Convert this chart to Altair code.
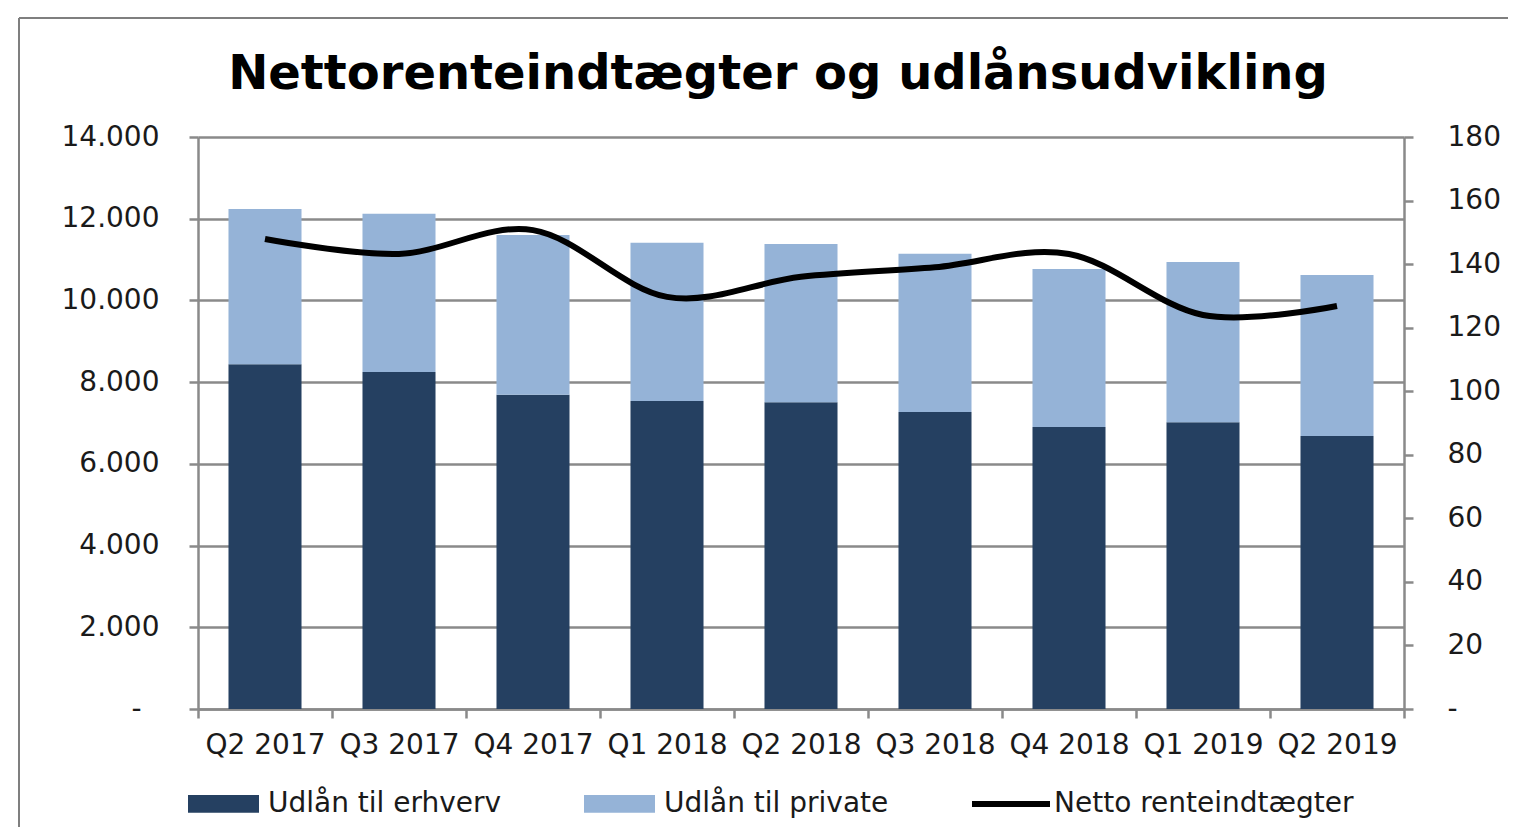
import altair as alt
import pandas as pd

# ---------------- data ----------------
quarters = ["Q2 2017", "Q3 2017", "Q4 2017", "Q1 2018", "Q2 2018",
            "Q3 2018", "Q4 2018", "Q1 2019", "Q2 2019"]
erhverv = [8440, 8250, 7690, 7540, 7510, 7270, 6900, 7020, 6680]
private = [3800, 3870, 3910, 3870, 3870, 3870, 3870, 3920, 3940]
netto = [147.9, 143.2, 150.7, 129.7, 136.0, 139.0, 143.2, 124.0, 126.8]

series_bar = ["Udlån til erhverv", "Udlån til private"]
series_line = "Netto renteindtægter"
bar_colors = ["#254061", "#95B3D7"]
left_ticks = [0, 2000, 4000, 6000, 8000, 10000, 12000, 14000]
right_ticks = [0, 20, 40, 60, 80, 100, 120, 140, 160, 180]
title_text = "Nettorenteindtægter og udlånsudvikling"

rows = []
for i, q in enumerate(quarters):
    rows.append({"q": q, "serie": series_bar[0], "v": erhverv[i], "ord": 0})
    rows.append({"q": q, "serie": series_bar[1], "v": private[i], "ord": 1})
bars_df = pd.DataFrame(rows)
line_df = pd.DataFrame({"q": quarters, "v": netto, "serie": [series_line] * len(quarters)})

# ---------------- style ----------------
FONT = "DejaVu Sans"
GRAY = "#8a8a8a"
TXT = "#1a1a1a"
FS = 28

x_enc = alt.X(
    "q:N", sort=quarters,
    scale=alt.Scale(paddingInner=0, paddingOuter=0),
    axis=alt.Axis(title=None, labelAngle=0, labelFont=FONT, labelFontSize=FS,
                  labelColor=TXT, labelPadding=13, labelOverlap=False,
                  tickBand="extent", tickSize=9, tickWidth=2.5, tickColor=GRAY,
                  domainColor=GRAY, domainWidth=2.5, grid=False),
)

bars = alt.Chart(bars_df).mark_bar(width=alt.RelativeBandSize(0.545)).encode(
    x=x_enc,
    y=alt.Y(
        "v:Q", stack="zero",
        scale=alt.Scale(domain=[0, 14000], nice=False, zero=True),
        axis=alt.Axis(
            title=None, orient="left", values=left_ticks,
            labelExpr="datum.value == 0 ? '-\u00a0\u00a0\u200d' : replace(format(datum.value, ','), ',', '.')",
            labelFont=FONT, labelFontSize=FS, labelColor=TXT, labelPadding=30,
            tickSize=9, tickWidth=2.5, tickColor=GRAY,
            domainColor=GRAY, domainWidth=2.5,
            grid=True, gridColor=GRAY, gridWidth=2.5,
        ),
    ),
    color=alt.Color(
        "serie:N",
        scale=alt.Scale(domain=series_bar, range=bar_colors),
        legend=alt.Legend(
            title=None, orient="none", legendX=-10, legendY=631,
            direction="horizontal",
            symbolType="M-1,-0.25H1V0.25H-1Z", symbolSize=5041,
            symbolStrokeWidth=0, symbolOpacity=1,
            labelFont=FONT, labelFontSize=FS, labelColor=TXT, labelLimit=600,
            labelOffset=9, columnPadding=82,
        ),
    ),
    order=alt.Order("ord:Q", sort="ascending"),
)

line = alt.Chart(line_df).mark_line(interpolate="cardinal", strokeWidth=6).encode(
    x=x_enc,
    y=alt.Y(
        "v:Q",
        scale=alt.Scale(domain=[0, 180], nice=False, zero=True),
        axis=alt.Axis(
            title=None, orient="right", values=right_ticks,
            labelExpr="datum.value == 0 ? '-' : format(datum.value, 'd')",
            labelFont=FONT, labelFontSize=FS, labelColor=TXT, labelPadding=34,
            tickSize=9, tickWidth=2.5, tickColor=GRAY,
            domainColor=GRAY, domainWidth=2.5, grid=False,
        ),
    ),
    stroke=alt.Stroke(
        "serie:N",
        scale=alt.Scale(domain=[series_line], range=["#000000"]),
        legend=alt.Legend(
            title=None, orient="none", legendX=771, legendY=625,
            symbolType="stroke", symbolSize=6084, symbolStrokeWidth=6,
            labelFont=FONT, labelFontSize=FS, labelColor=TXT, labelLimit=600,
            labelOffset=1,
        ),
    ),
)

deco_data = alt.Data(values=[{"k": 0}])
frame_top = alt.Chart(deco_data).mark_rule(color="#7f7f7f", strokeWidth=2).encode(
    x=alt.value(-179), x2=alt.value(1310), y=alt.value(-119)
)
frame_left = alt.Chart(deco_data).mark_rule(color="#7f7f7f", strokeWidth=2).encode(
    x=alt.value(-179), y=alt.value(-119), y2=alt.value(690)
)
title = alt.Chart(deco_data).mark_text(
    text=title_text, font=FONT, fontSize=48, fontWeight="bold", color="#000000",
    align="center", baseline="alphabetic",
).encode(x=alt.value(580), y=alt.value(-48))

chart = (
    alt.layer(bars, line, frame_top, frame_left, title)
    .resolve_scale(y="independent")
    .properties(
        width=1206, height=572,
        padding={"left": 10, "top": 9, "right": 0, "bottom": 0},
    )
    .configure_view(stroke=None)
)

chart.save("out.html", embed_options={"renderer": "svg", "actions": False})
